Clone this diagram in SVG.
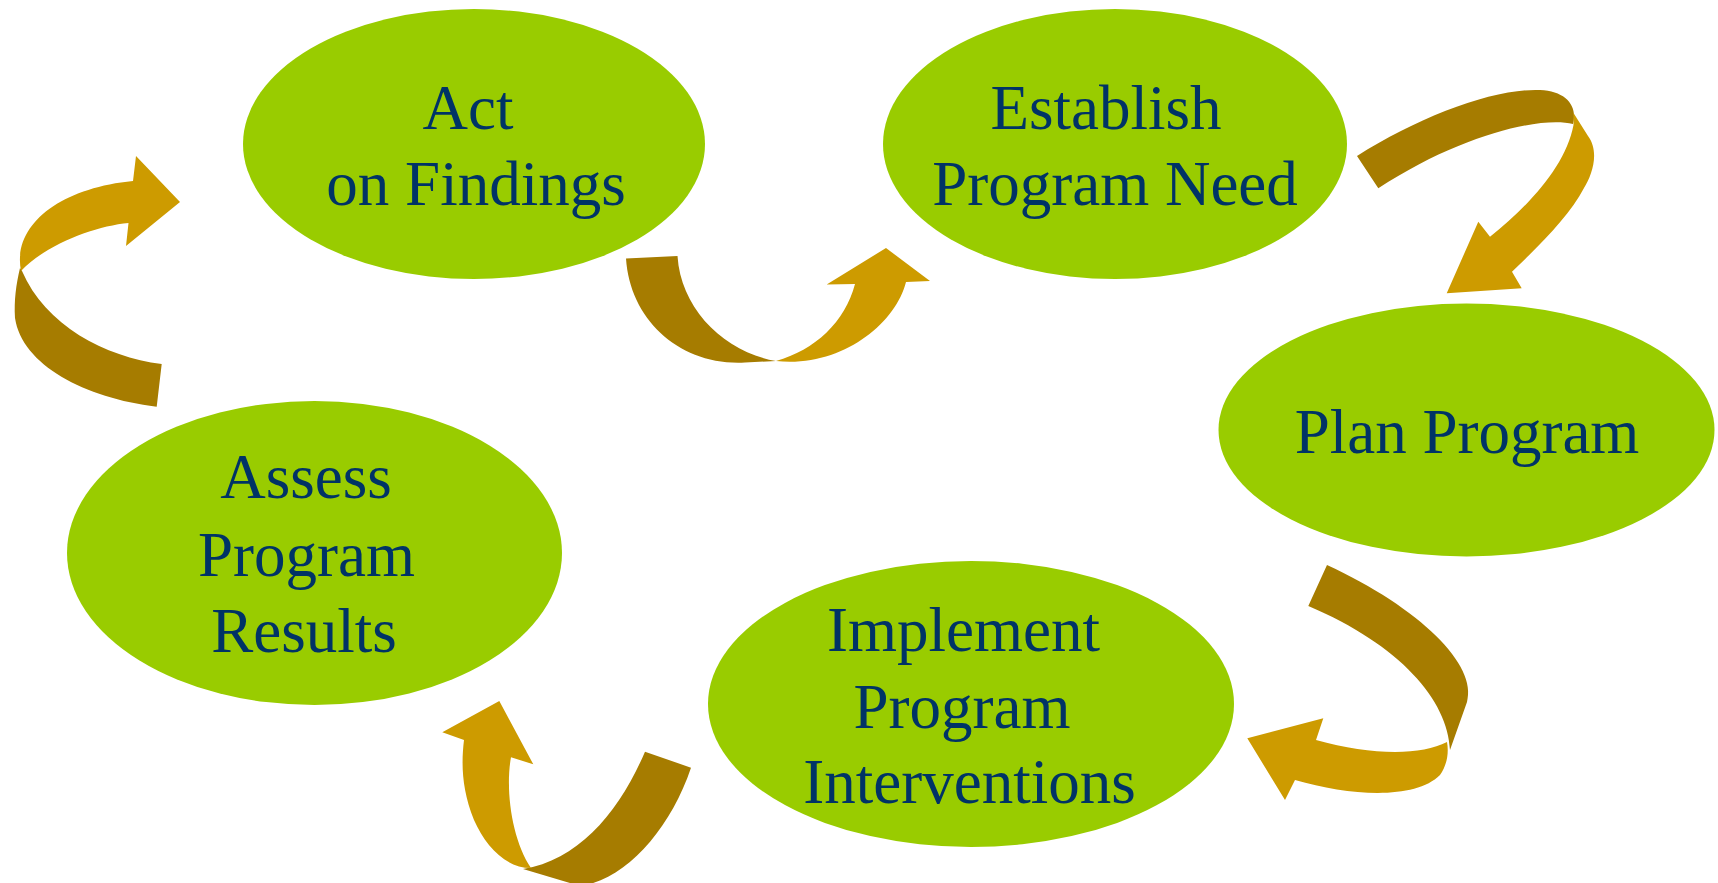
<svg xmlns="http://www.w3.org/2000/svg" width="1718" height="883" viewBox="0 0 1718 883">
  <style>
    .node { fill: #99cc00; }
    .label { font-family: "Liberation Serif", "Times New Roman", serif; font-size: 63px; fill: #003366; text-anchor: middle; }
    .back { fill: #a67c00; }
    .front { fill: #cd9b00; }
  </style>
  <rect width="1718" height="883" fill="#ffffff"/>

  <!-- nodes -->
  <g id="act-on-findings">
    <ellipse class="node" cx="474" cy="144" rx="231" ry="135"/>
    <text class="label" x="468" y="129">Act</text>
    <text class="label" x="476" y="205">on Findings</text>
  </g>
  <g id="establish-program-need">
    <ellipse class="node" cx="1115" cy="144" rx="232" ry="135"/>
    <text class="label" x="1106" y="129">Establish</text>
    <text class="label" x="1115" y="205">Program Need</text>
  </g>
  <g id="plan-program">
    <ellipse class="node" cx="1466.5" cy="430" rx="248" ry="126.5"/>
    <text class="label" x="1467" y="453">Plan Program</text>
  </g>
  <g id="implement-program-interventions">
    <ellipse class="node" cx="971" cy="704" rx="263" ry="143"/>
    <text class="label" x="963.5" y="651">Implement</text>
    <text class="label" x="962" y="727.5">Program</text>
    <text class="label" x="969.5" y="803">Interventions</text>
  </g>
  <g id="assess-program-results">
    <ellipse class="node" cx="314.5" cy="553" rx="247.5" ry="152"/>
    <text class="label" x="306" y="498">Assess</text>
    <text class="label" x="306.5" y="576">Program</text>
    <text class="label" x="304" y="652">Results</text>
  </g>

  <!-- connectors: twisted ribbon arrows -->
  <g id="connectors">
    <!-- Assess -> Act -->
    <g id="arrow-assess-act">
      <path class="back" d="M161.7,364 C105,357 45,325 22,271 L20,268 C16,285 14,300 15,318 C22,365 85,398 156.7,406.7 Z"/>
      <path class="front" d="M21,271 C12,225 60,188 133,181 L136,156 L180,202 L126,246 L128.5,223 C95,226 45,245 21,271 Z"/>
    </g>
    <!-- Act -> Establish -->
    <g id="arrow-act-establish">
      <path class="back" d="M626,258.5 L677.5,256 C681,310 725,352 776,361 L745,362.5 C680,366 630,320 626,258.5 Z"/>
      <path class="front" d="M776,361 C840,368 895,325 906,282 L930,281 L886,248 L826.7,284.5 L855,284 C845,322 815,350 776,361 Z"/>
    </g>
    <!-- Establish -> Plan -->
    <g id="arrow-establish-plan">
      <path class="back" d="M1357,156 C1420,116 1495,88 1540,90 C1566,91 1578,106 1573,124 C1540,116 1460,135 1378.3,188.3 Z"/>
      <path class="front" d="M1573.5,113 L1588,136 C1600,152 1592,175 1584,188 C1570,215 1540,245 1512,271.7 L1521.7,288.3 L1446.7,293.3 L1478.3,221.7 L1490,236.7 C1530,205 1566,165 1573.5,125 Z"/>
    </g>
    <!-- Plan -> Implement -->
    <g id="arrow-plan-implement">
      <path class="back" d="M1327,565 C1420,608 1478,665 1467,702 L1450,750 C1448,700 1400,645 1308.3,606 Z"/>
      <path class="front" d="M1447,742 C1420,756 1370,755 1316,740 L1323.3,718.3 L1247.3,738.3 L1285,800 L1295,780 C1350,796 1415,800 1440,775 C1447,765 1449,753 1447,742 Z"/>
    </g>
    <!-- Implement -> Assess -->
    <g id="arrow-implement-assess">
      <path class="back" d="M645,751.7 L691,767.7 C670,830 625,880 580,886 L523,869 C580,860 620,810 645,751.7 Z"/>
      <path class="front" d="M531,868 C505,868 485,845 474,820 C462,790 461,765 464,740 L442.3,732.3 L499.3,701 L533.3,764.3 L511,757.3 C505,790 512,840 531,868 Z"/>
    </g>
  </g>
</svg>
